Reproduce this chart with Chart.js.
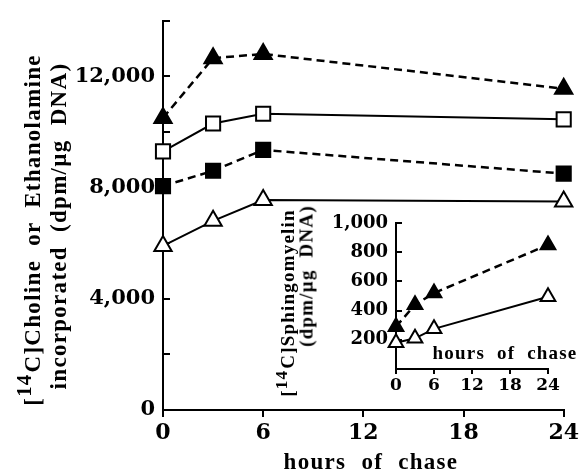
<!DOCTYPE html>
<html lang="en">
  <head>
    <meta charset="UTF-8" />
    <title>Choline / Ethanolamine chase</title>
    <style>
      body { margin: 0; background: #fff; }
      .wrap { position: relative; width: 582px; height: 476px; overflow: hidden; }
      #mainChart { position: absolute; left: 0; top: 0; }
      #insetChart { position: absolute; left: 316px; top: 200px; }
      .ttl {
        position: absolute;
        font-family: "Liberation Serif", "Times New Roman", serif;
        font-weight: bold;
        color: #000;
        white-space: nowrap;
        line-height: 1;
        transform: translate(-50%, -50%);
      }
      .rot { transform: translate(-50%, -50%) rotate(-90deg); }
      .ttl sup { font-size: 0.9em; vertical-align: baseline; position: relative; top: -0.42em; margin-right: 1px; }
    </style>
  </head>
  <body>
    <div class="wrap">
      <canvas id="mainChart" width="582" height="476"></canvas>
      <canvas id="insetChart" width="266" height="200"></canvas>

      <div class="ttl rot" style="left:32px; top:230px; font-size:23px; letter-spacing:1.3px; word-spacing:7px;">[<sup>14</sup>C]Choline or Ethanolamine</div>
      <div class="ttl rot" style="left:58px; top:226px; font-size:23px; letter-spacing:1.3px; word-spacing:7px;">incorporated (dpm/µg DNA)</div>
      <div class="ttl" style="left:371px; top:461px; font-size:23px; letter-spacing:1.3px; word-spacing:8px;">hours of chase</div>

      <div class="ttl rot" style="left:288px; top:303px; font-size:19px; letter-spacing:1.2px; word-spacing:5px;">[<sup>14</sup>C]Sphingomyelin</div>
      <div class="ttl rot" style="left:306px; top:276px; font-size:19px; letter-spacing:1.2px; word-spacing:6px;">(dpm/µg DNA)</div>
      <div class="ttl" style="left:505px; top:352px; font-size:19px; letter-spacing:1.2px; word-spacing:6px;">hours of chase</div>
    </div>

    <script src="https://cdnjs.cloudflare.com/ajax/libs/Chart.js/4.4.0/chart.umd.min.js"></script>
    <script>
      // hours after the chase started
      const hours = [0, 3, 6, 24];

      // choline / ethanolamine incorporation (dpm/ug DNA)
      const triFilled = [10500, 12650, 12800, 11550];
      const sqOpen = [9300, 10300, 10650, 10450];
      const sqFilled = [8050, 8600, 9350, 8500];
      const triOpen = [5900, 6800, 7550, 7500];
      const mainYLabels = [0, 4000, 8000, 12000];

      // sphingomyelin (inset)
      const smHours = [0, 3, 6, 24];
      const smTriFilled = [290, 440, 520, 850];
      const smTriOpen = [180, 210, 275, 495];
      const smYLabels = [200, 400, 600, 800, 1000];

      const xTickLabels = [0, 6, 12, 18, 24];

      const tickFont = { family: "DejaVu Serif", weight: "bold" };

      function pts(xs, ys) {
        return xs.map((x, i) => ({ x: x, y: ys[i] }));
      }

      function series(xs, ys, style, filled, dashed, r) {
        return {
          data: pts(xs, ys),
          borderColor: "#000",
          borderWidth: dashed ? 2.5 : 2,
          borderDash: dashed ? [8, 5] : [],
          pointStyle: style,
          pointRadius: r,
          pointBorderWidth: 2,
          pointBorderColor: "#000",
          pointBackgroundColor: filled ? "#000" : "#fff",
          tension: 0,
          clip: false,
        };
      }

      // y ticks point into the plot
      const inwardTicks = {
        id: "inwardTicks",
        beforeDatasetsDraw(chart, args, opts) {
          const y = chart.scales.y;
          const ctx = chart.ctx;
          const left = chart.chartArea.left;
          ctx.save();
          ctx.strokeStyle = "#000";
          ctx.lineWidth = 2;
          y.ticks.forEach((t) => {
            if (t.value === y.min) return;
            const py = Math.round(y.getPixelForValue(t.value));
            ctx.beginPath();
            ctx.moveTo(left, py);
            ctx.lineTo(left + opts.len, py);
            ctx.stroke();
          });
          ctx.restore();
        },
      };

      function opts(cfg) {
        return {
          responsive: false,
          animation: false,
          layout: { padding: cfg.padding },
          plugins: {
            legend: { display: false },
            tooltip: { enabled: false },
            inwardTicks: { len: cfg.tickIn },
          },
          scales: {
            x: {
              type: "linear",
              min: 0,
              max: 24,
              afterFit: (s) => { s.height = cfg.xHeight; },
              afterBuildTicks: (s) => { s.ticks = xTickLabels.map((v) => ({ value: v })); },
              grid: { drawOnChartArea: false, drawTicks: true, tickLength: cfg.tickOut, color: "#000", lineWidth: 2 },
              border: { color: "#000", width: 2 },
              ticks: {
                color: "#000",
                padding: cfg.xPad,
                maxRotation: 0,
                font: Object.assign({ size: cfg.xFont }, tickFont),
              },
            },
            y: {
              min: cfg.yMin,
              max: cfg.yMax,
              afterFit: (s) => { s.width = cfg.yWidth; },
              ticks: {
                stepSize: cfg.yStep,
                color: "#000",
                padding: cfg.yPad,
                font: Object.assign({ size: cfg.yFont }, tickFont),
                callback: (v) => (cfg.yLabels.includes(v) ? v.toLocaleString("en-US") : ""),
              },
              grid: { display: false, drawTicks: false },
              border: { color: "#000", width: 2 },
            },
          },
        };
      }

      new Chart(document.getElementById("mainChart"), {
        type: "line",
        data: {
          datasets: [
            series(hours, triOpen, "triangle", false, false, 10),
            series(hours, sqFilled, "rect", true, true, 10),
            series(hours, sqOpen, "rect", false, false, 10),
            series(hours, triFilled, "triangle", true, true, 10),
          ],
        },
        options: opts({
          padding: { left: 0, top: 14, right: 17, bottom: 0 },
          xHeight: 66,
          yWidth: 163,
          xPad: 3,
          yPad: 8,
          xFont: 22,
          yFont: 21,
          tickOut: 7,
          tickIn: 7,
          yMin: 0,
          yMax: 14000,
          yStep: 2000,
          yLabels: mainYLabels,
        }),
        plugins: [inwardTicks],
      });

      new Chart(document.getElementById("insetChart"), {
        type: "line",
        data: {
          datasets: [
            series(smHours, smTriOpen, "triangle", false, false, 8.5),
            series(smHours, smTriFilled, "triangle", true, true, 8.5),
          ],
        },
        options: opts({
          padding: { left: 0, top: 23, right: 34, bottom: 0 },
          xHeight: 31,
          yWidth: 80,
          xPad: 1,
          yPad: 8,
          xFont: 17,
          yFont: 18,
          tickOut: 5,
          tickIn: 6,
          yMin: 0,
          yMax: 1000,
          yStep: 200,
          yLabels: smYLabels,
        }),
        plugins: [inwardTicks],
      });
    </script>
  </body>
</html>
